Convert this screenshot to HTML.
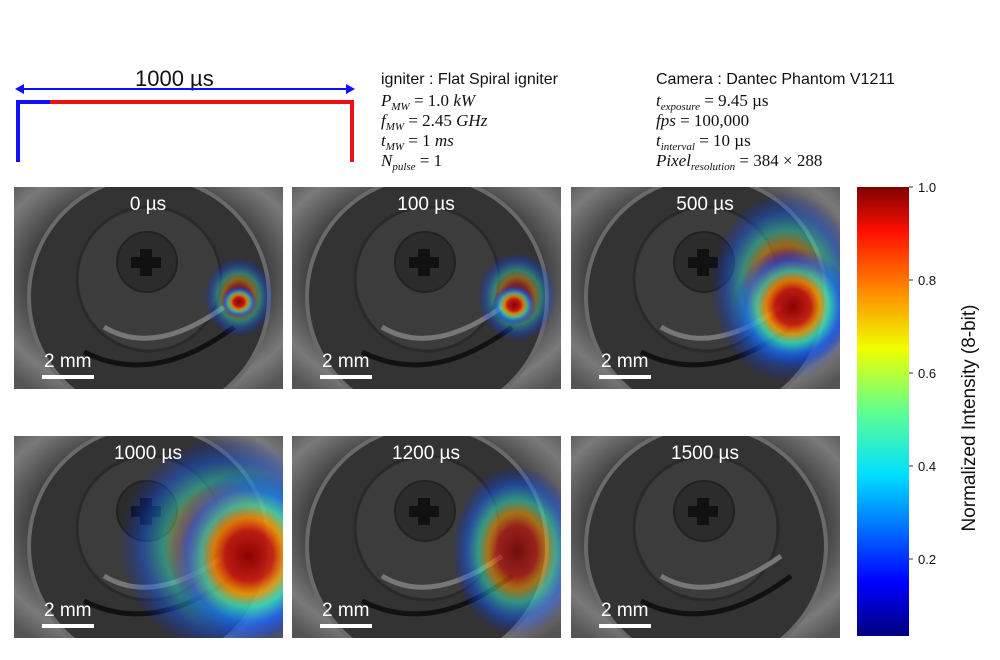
<!DOCTYPE html>
<html><head><meta charset="utf-8"><style>
body{margin:0;background:#fff;width:1000px;height:660px;overflow:hidden}
svg{display:block}
.m{font-family:"Liberation Serif",serif;font-style:italic;font-size:17px;fill:#111}
.t{font-family:"Liberation Sans",sans-serif;fill:#111}
.w{font-family:"Liberation Sans",sans-serif;fill:#fff;font-size:19px}
</style></head><body>
<svg width="1000" height="660" viewBox="0 0 1000 660" xmlns="http://www.w3.org/2000/svg">
<defs>
<clipPath id="cp"><rect width="269" height="202"/></clipPath>
<radialGradient id="bg" cx="0.5" cy="0.45" r="0.7"><stop offset="0" stop-color="#444"/><stop offset="0.6" stop-color="#3a3a3a"/><stop offset="0.85" stop-color="#7a7a7a"/><stop offset="1" stop-color="#555"/></radialGradient>
<radialGradient id="jet" cx="0.5" cy="0.5" r="0.5"><stop offset="0" stop-color="#8b0000" stop-opacity="0.9"/><stop offset="0.3" stop-color="#c81a10" stop-opacity="0.85"/><stop offset="0.45" stop-color="#ffa000" stop-opacity="0.7"/><stop offset="0.6" stop-color="#30e0c0" stop-opacity="0.7"/><stop offset="0.78" stop-color="#1060ff" stop-opacity="0.6"/><stop offset="1" stop-color="#0020ff" stop-opacity="0"/></radialGradient>
<g id="base">
<rect width="269" height="202" fill="url(#bg)"/>
<circle cx="135" cy="110" r="120" fill="#333" stroke="#6a6a6a" stroke-width="4"/>
<circle cx="135" cy="92" r="72" fill="#3c3c3c" stroke="#2a2a2a" stroke-width="3"/>
<circle cx="133" cy="75" r="30" fill="#2c2c2c" stroke="#222" stroke-width="2"/>
<path d="M126 62h12v8h9v11h-9v8h-12v-8h-9v-11h9z" fill="#111"/>
<path d="M90 140 Q140 170 210 120" stroke="#777" stroke-width="5" fill="none"/>
<path d="M70 165 Q140 200 220 140" stroke="#111" stroke-width="5" fill="none"/>
</g>
<g id="sb">
<text x="30" y="180" class="w" font-size="17">2 mm</text>
<rect x="28" y="188" width="52" height="4" fill="#fff"/>
</g>
</defs>

<text x="135" y="86" class="t" font-size="22">1000 µs</text>
<line x1="20" y1="89" x2="350" y2="89" stroke="#1010ff" stroke-width="2"/>
<path d="M15 89l9-5v10zM355 89l-9-5v10z" fill="#1010ff"/>
<path d="M18 162V102h32" stroke="#1010ff" stroke-width="4" fill="none"/>
<path d="M50 102H352v60" stroke="#ee1010" stroke-width="4" fill="none"/>

<text x="381" y="84" class="t" font-size="16">igniter : Flat Spiral igniter</text>
<text x="381" y="106" class="m">P<tspan font-size="11" dy="4">MW</tspan><tspan dy="-4" font-style="normal"> = 1.0 </tspan>kW</text>
<text x="381" y="126" class="m">f<tspan font-size="11" dy="4">MW</tspan><tspan dy="-4" font-style="normal"> = 2.45 </tspan>GHz</text>
<text x="381" y="146" class="m">t<tspan font-size="11" dy="4">MW</tspan><tspan dy="-4" font-style="normal"> = 1 </tspan>ms</text>
<text x="381" y="166" class="m">N<tspan font-size="11" dy="4">pulse</tspan><tspan dy="-4" font-style="normal"> = 1</tspan></text>

<text x="656" y="84" class="t" font-size="16">Camera : Dantec Phantom V1211</text>
<text x="656" y="106" class="m">t<tspan font-size="11" dy="4">exposure</tspan><tspan dy="-4" font-style="normal"> = 9.45 µs</tspan></text>
<text x="656" y="126" class="m">fps<tspan font-style="normal"> = 100,000</tspan></text>
<text x="656" y="146" class="m">t<tspan font-size="11" dy="4">interval</tspan><tspan dy="-4" font-style="normal"> = 10 µs</tspan></text>
<text x="656" y="166" class="m">Pixel<tspan font-size="11" dy="4">resolution</tspan><tspan dy="-4" font-style="normal"> = 384 × 288</tspan></text>

<g transform="translate(14,187)"><g clip-path="url(#cp)"><use href="#base"/>
<ellipse cx="225" cy="110" rx="35" ry="40" fill="url(#jet)" opacity="0.6"/>
<ellipse cx="225" cy="115" rx="18" ry="16" fill="url(#jet)"/></g><use href="#sb"/>
<text x="134" y="23" class="w" text-anchor="middle">0 µs</text></g>

<g transform="translate(292,187)"><g clip-path="url(#cp)"><use href="#base"/>
<ellipse cx="225" cy="110" rx="40" ry="45" fill="url(#jet)" opacity="0.6"/>
<ellipse cx="222" cy="118" rx="22" ry="20" fill="url(#jet)"/></g><use href="#sb"/>
<text x="134" y="23" class="w" text-anchor="middle">100 µs</text></g>

<g transform="translate(571,187)"><g clip-path="url(#cp)"><use href="#base"/>
<ellipse cx="215" cy="100" rx="75" ry="95" fill="url(#jet)" opacity="0.7"/>
<ellipse cx="222" cy="120" rx="60" ry="60" fill="url(#jet)"/></g><use href="#sb"/>
<text x="134" y="23" class="w" text-anchor="middle">500 µs</text></g>

<g transform="translate(14,436)"><g clip-path="url(#cp)"><use href="#base"/>
<ellipse cx="215" cy="110" rx="110" ry="110" fill="url(#jet)" opacity="0.7"/>
<ellipse cx="235" cy="120" rx="80" ry="85" fill="url(#jet)"/></g><use href="#sb"/>
<text x="134" y="23" class="w" text-anchor="middle">1000 µs</text></g>

<g transform="translate(292,436)"><g clip-path="url(#cp)"><use href="#base"/>
<ellipse cx="225" cy="115" rx="65" ry="85" fill="url(#jet)" opacity="0.8"/></g><use href="#sb"/>
<text x="134" y="23" class="w" text-anchor="middle">1200 µs</text></g>

<g transform="translate(571,436)"><g clip-path="url(#cp)"><use href="#base"/></g><use href="#sb"/>
<text x="134" y="23" class="w" text-anchor="middle">1500 µs</text></g>

<rect x="857" y="187" width="52" height="449" fill="url(#cb)"/>
<g stroke="#333" stroke-width="1"><line x1="909" y1="187" x2="913" y2="187"/><line x1="909" y1="280" x2="913" y2="280"/><line x1="909" y1="373" x2="913" y2="373"/><line x1="909" y1="466" x2="913" y2="466"/><line x1="909" y1="559" x2="913" y2="559"/></g>
<defs><linearGradient id="cb" x1="0" y1="1" x2="0" y2="0"><stop offset="0" stop-color="#00007f"/><stop offset="0.12" stop-color="#0000ff"/><stop offset="0.36" stop-color="#00e0ff"/><stop offset="0.5" stop-color="#60ff90"/><stop offset="0.64" stop-color="#f0ff00"/><stop offset="0.78" stop-color="#ff8000"/><stop offset="0.9" stop-color="#ff1000"/><stop offset="1" stop-color="#7f0000"/></linearGradient></defs>
<g class="t" font-size="13"><text x="918" y="192">1.0</text><text x="918" y="285">0.8</text><text x="918" y="378">0.6</text><text x="918" y="471">0.4</text><text x="918" y="564">0.2</text></g>
<text class="t" font-size="19" transform="translate(975,418) rotate(-90)" text-anchor="middle">Normalized Intensity (8-bit)</text>
</svg>
</body></html>
